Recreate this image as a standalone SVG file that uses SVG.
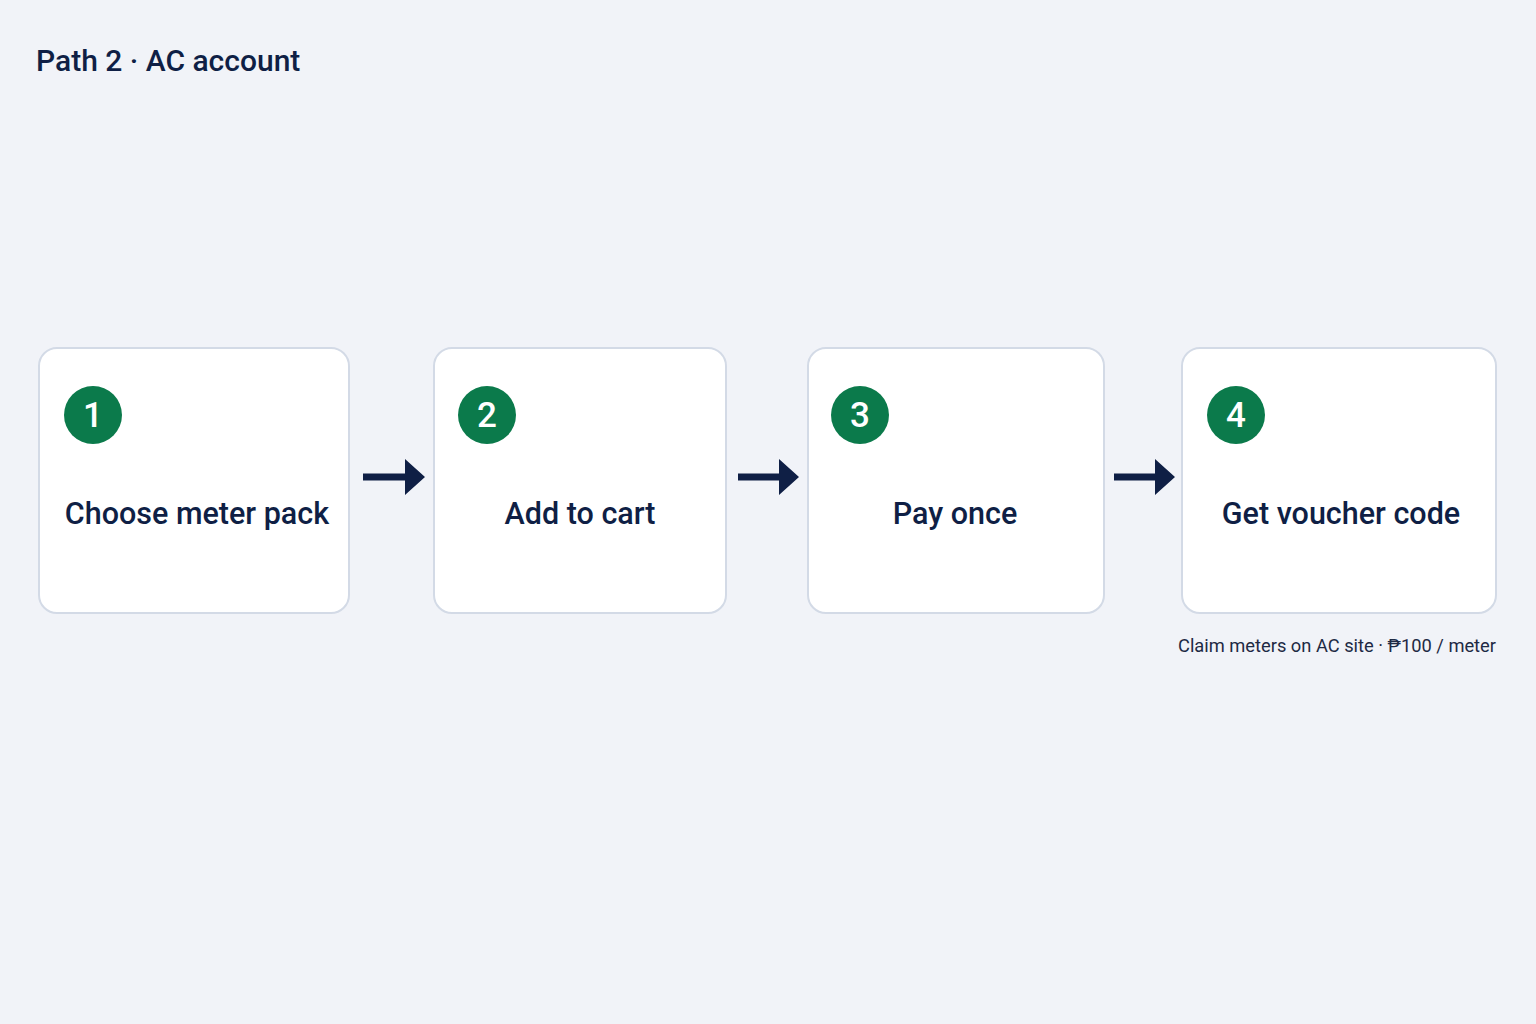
<svg xmlns="http://www.w3.org/2000/svg" width="1536" height="1024" viewBox="0 0 1536 1024">
<style>
.card{fill:#ffffff;stroke:#d3dae6;stroke-width:2}
.badge{fill:#0b7a4b}
.num{font-family:Roboto,"Noto Sans",sans-serif;font-weight:500;font-size:35px;fill:#ffffff;text-anchor:middle}
.lbl{font-family:Roboto,"Noto Sans",sans-serif;font-weight:500;font-size:30.5px;fill:#0f1f45;text-anchor:middle}
.title{font-family:Roboto,"Noto Sans",sans-serif;font-weight:500;font-size:30px;fill:#0f1f45}
.note{font-family:Roboto,"Noto Sans",sans-serif;font-weight:400;font-size:18.3px;fill:#1e2a44;text-anchor:end}
.arrow{fill:#0f1f45}
</style>
<rect width="1536" height="1024" fill="#f1f3f8"/>
<text class="title" x="36" y="71">Path 2 · AC account</text>
<g id="step1">
<rect class="card" x="39" y="348" width="310" height="265" rx="18"/>
<circle class="badge" cx="93" cy="415" r="29"/>
<text class="num" x="93" y="427">1</text>
<text class="lbl" x="197" y="524">Choose meter pack</text>
</g>
<g id="step2">
<rect class="card" x="434" y="348" width="292" height="265" rx="18"/>
<circle class="badge" cx="487" cy="415" r="29"/>
<text class="num" x="487" y="427">2</text>
<text class="lbl" x="580" y="524">Add to cart</text>
</g>
<g id="step3">
<rect class="card" x="808" y="348" width="296" height="265" rx="18"/>
<circle class="badge" cx="860" cy="415" r="29"/>
<text class="num" x="860" y="427">3</text>
<text class="lbl" x="955" y="524">Pay once</text>
</g>
<g id="step4">
<rect class="card" x="1182" y="348" width="314" height="265" rx="18"/>
<circle class="badge" cx="1236" cy="415" r="29"/>
<text class="num" x="1236" y="427">4</text>
<text class="lbl" x="1341" y="524">Get voucher code</text>
</g>
<g id="connectors">
<path class="arrow" d="M363 473.5 H405 V459 L425 477 L405 495 V480.5 H363 Z"/>
<path class="arrow" d="M738 473.5 H779 V459 L799 477 L779 495 V480.5 H738 Z"/>
<path class="arrow" d="M1114 473.5 H1155 V459 L1175 477 L1155 495 V480.5 H1114 Z"/>
</g>
<text class="note" x="1496" y="652">Claim meters on AC site · ₱100 / meter</text>
</svg>
